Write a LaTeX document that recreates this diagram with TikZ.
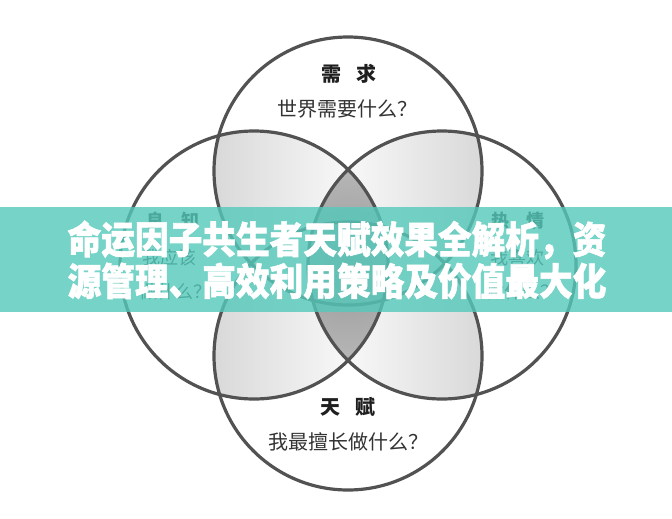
\documentclass[tikz,border=0pt]{standalone}
\usepackage{fontspec}
\newfontfamily\cjk{Noto Sans CJK SC}
\newfontfamily\cjkheavy[BoldFeatures={FakeBold=1.6}]{Noto Sans CJK SC}
\definecolor{ringgray}{RGB}{82,82,82}
\definecolor{bandteal}{RGB}{84,201,186}
\tikzset{
  ring/.style={draw=ringgray, line width=3.2pt},
  headlabel/.style={font=\cjk\bfseries\fontsize{20}{24}\selectfont, text=black!88, inner sep=0pt},
  asklabel/.style={font=\cjk\fontsize{20}{24}\selectfont, text=black!80, inner sep=0pt},
  sidehead/.style={font=\cjk\bfseries\fontsize{18}{22}\selectfont, text=black!85, inner sep=0pt},
  sideask/.style={font=\cjk\fontsize{18}{22}\selectfont, text=black!80, inner sep=0pt},
  titleline/.style={font=\cjkheavy\bfseries\fontsize{37}{40}\selectfont, text=white, inner sep=0pt}
}
\begin{document}
\begin{tikzpicture}[x=1pt,y=-1pt]

	\fill[white] (0,0) rectangle (672,519);
	\useasboundingbox (0,0) rectangle (672,519);

	\def\rr{134pt}
	\coordinate (ctop) at (348,171);
	\coordinate (cbot) at (348,356);
	\coordinate (cleft) at (254,265);
	\coordinate (cright) at (442,265);
	\coordinate (cmid) at (348,265);

	% light lenses, grey towards the outer side
	\foreach \a in {ctop,cbot}
	{
		\begin{scope}
			\clip (\a) circle (\rr);
			\clip (cleft) circle (\rr);
			\shade[left color=black!19, right color=white] (170,60) rectangle (380,470);
		\end{scope}
		\begin{scope}
			\clip (\a) circle (\rr);
			\clip (cright) circle (\rr);
			\shade[left color=white, right color=black!19] (316,60) rectangle (526,470);
		\end{scope}
	}

	% darker middle lens
	\begin{scope}
		\clip (cleft) circle (\rr);
		\clip (cright) circle (\rr);
		\shade[inner color=black!40, outer color=black!16] (cmid) circle (200pt);
	\end{scope}

	\foreach \c in {ctop,cleft,cright,cbot}
	{
		\draw[ring] (\c) circle (\rr);
	}

	\node[headlabel] (needhead) at (349,74) {需\hspace{0.75em}求};
	\node[asklabel] (needask) at (347,109) {世界需要什么？};

	\node[sidehead] (consciencehead) at (173,221) {良\hspace{0.9em}知};
	\node[sideask] (conscienceaskA) at (169,258) {我应该};
	\node[sideask] (conscienceaskB) at (175,292) {做什么？};

	\node[sidehead] (passionhead) at (518,221) {热\hspace{0.9em}情};
	\node[sideask] (passionaskA) at (517,258) {我喜欢};
	\node[sideask] (passionaskB) at (522,292) {做什么？};

	\node[headlabel] (talenthead) at (348,407) {天\hspace{0.75em}赋};
	\node[asklabel] (talentask) at (348,442) {我最擅长做什么？};

	% title band over everything
	\fill[bandteal, opacity=0.8] (0,207) rectangle (672,312);
	\node[titleline] (titleA) at (337,240) {\scalebox{0.91}[1.02]{命运因子共生者天赋效果全解析，资}};
	\node[titleline] (titleB) at (337,281) {\scalebox{0.91}[1.02]{源管理、高效利用策略及价值最大化}};

\end{tikzpicture}
\end{document}
